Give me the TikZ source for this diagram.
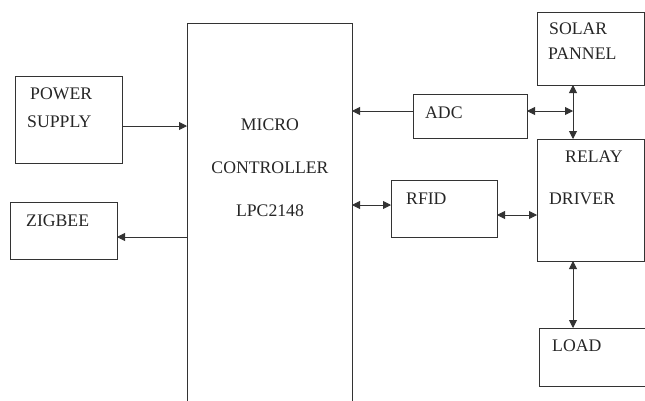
\documentclass[tikz,border=0pt]{standalone}
\usepackage{fontspec}
\setmainfont{Liberation Serif}
\usetikzlibrary{arrows.meta}
\begin{document}
\begin{tikzpicture}[x=1pt,y=-1pt,
  blk/.style={draw=black!80, line width=0.9pt, inner sep=0pt, outer sep=0pt, anchor=north west},
  lbl/.style={inner sep=0pt, anchor=west, font=\fontsize{17.7}{20}\selectfont, text=black!85},
  clbl/.style={inner sep=0pt, anchor=center, font=\fontsize{17.7}{20}\selectfont, text=black!85},
  con/.style={draw=black!80, line width=0.9pt},
  tip/.tip={Triangle[length=8pt,width=8pt]}]
\useasboundingbox (0,0) rectangle (645,400);
\fill[white] (0,0) rectangle (645,400);
% boxes
\node[blk, minimum width=107pt, minimum height=87pt] (ps) at (15,76) {};
\node[blk, minimum width=107pt, minimum height=57pt] (zb) at (10,202) {};
\node[blk, minimum width=165pt, minimum height=390pt] (mc) at (187,23) {};
\node[blk, minimum width=114pt, minimum height=44pt] (adc) at (413,94) {};
\node[blk, minimum width=107pt, minimum height=73pt] (sol) at (537,12) {};
\node[blk, minimum width=107pt, minimum height=122pt] (rel) at (537,139) {};
\node[blk, minimum width=106pt, minimum height=57pt] (rfid) at (391,180) {};
\node[blk, minimum width=120pt, minimum height=58pt] (load) at (539,328) {};
% texts
\node[lbl] (t1) at (30,94) {POWER};
\node[lbl] (t2) at (27,122) {SUPPLY};
\node[lbl] (t3) at (26,221) {ZIGBEE};
\node[clbl] (t4) at (270,125) {MICRO};
\node[clbl] (t5) at (270,168) {CONTROLLER};
\node[clbl] (t6) at (270,211) {LPC2148};
\node[lbl] (t7) at (425,113) {ADC};
\node[lbl] (t8) at (549,29) {SOLAR};
\node[lbl] (t9) at (548,54) {PANNEL};
\node[lbl] (t10) at (565,157) {RELAY};
\node[lbl] (t11) at (549,199) {DRIVER};
\node[lbl] (t12) at (406,199) {RFID};
\node[lbl] (t13) at (552,346) {LOAD};
% connectors
\coordinate (j) at (573,111);
\draw[con, -{tip}] (ps.east |- 0,126) -- (mc.west |- 0,126);
\draw[con, -{tip}] (mc.west |- 0,237) -- (zb.east |- 0,237);
\draw[con, -{tip}] (adc.west |- 0,111) -- (mc.east |- 0,111);
\draw[con, {tip}-{tip}] (mc.east |- 0,205) -- (rfid.west |- 0,205);
\draw[con, {tip}-{tip}] (adc.east |- j) -- (j);
\draw[con, {tip}-{tip}] (sol.south -| j) -- (rel.north -| j);
\draw[con, {tip}-{tip}] (rfid.east |- 0,215) -- (rel.west |- 0,215);
\draw[con, {tip}-{tip}] (rel.south -| j) -- (load.north -| j);
\end{tikzpicture}
\end{document}
